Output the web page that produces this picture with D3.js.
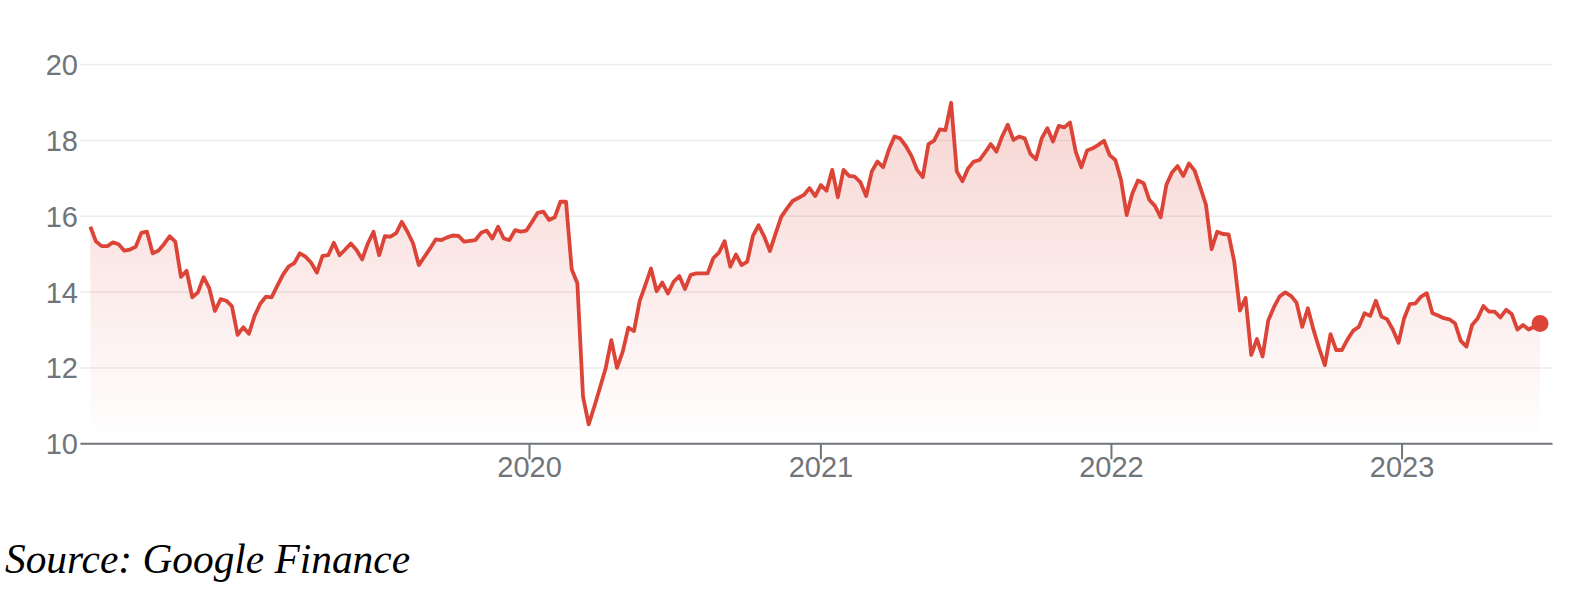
<!DOCTYPE html>
<html>
<head>
<meta charset="utf-8">
<script src="https://cdn.jsdelivr.net/npm/d3@7"></script>
<style>
  html, body { margin: 0; padding: 0; background: #fff; }
  svg { display: block; }
  .axis text { font-family: "Liberation Sans", Arial, sans-serif; font-size: 29px; fill: #70757a; }
  .source { font-family: "Liberation Serif", serif; font-style: italic; font-size: 43px; fill: #000; }
</style>
</head>
<body>
<svg id="chart" width="1580" height="594"></svg>
<script>
// weekly closing prices (first point end of June 2018, last late June 2023)
const startDate = new Date(2018, 5, 29);
const endDate = new Date(2023, 5, 24);

const prices = [
  15.71, 15.32, 15.20, 15.20, 15.30, 15.25, 15.08, 15.11, 15.18, 15.55,
  15.58, 15.01, 15.08, 15.25, 15.46, 15.32, 14.39, 14.55, 13.85, 13.98,
  14.38, 14.09, 13.49, 13.80, 13.76, 13.62, 12.86, 13.06, 12.89, 13.36,
  13.68, 13.87, 13.85, 14.15, 14.44, 14.66, 14.75, 15.01, 14.92, 14.76,
  14.50, 14.94, 14.96, 15.29, 14.96, 15.11, 15.27, 15.10, 14.85, 15.27,
  15.58, 14.96, 15.46, 15.45, 15.54, 15.84, 15.58, 15.27, 14.70, 14.92,
  15.14, 15.38, 15.36, 15.43, 15.48, 15.47, 15.32, 15.34, 15.36, 15.55,
  15.61, 15.40, 15.71, 15.40, 15.36, 15.62, 15.58, 15.61, 15.84, 16.08,
  16.11, 15.89, 15.96, 16.37, 16.37, 14.59, 14.22, 11.23, 10.50, 10.97,
  11.47, 11.98, 12.72, 11.99, 12.41, 13.05, 12.96, 13.75, 14.17, 14.61,
  14.01, 14.24, 13.95, 14.26, 14.41, 14.07, 14.44, 14.48, 14.48, 14.48,
  14.88, 15.03, 15.33, 14.66, 14.98, 14.70, 14.79, 15.47, 15.75, 15.45,
  15.07, 15.53, 15.97, 16.19, 16.39, 16.47, 16.55, 16.73, 16.52, 16.81,
  16.66, 17.21, 16.49, 17.21, 17.05, 17.03, 16.88, 16.52, 17.17, 17.43,
  17.28, 17.74, 18.09, 18.04, 17.84, 17.58, 17.21, 17.02, 17.89, 17.98,
  18.28, 18.26, 18.98, 17.17, 16.91, 17.25, 17.43, 17.47, 17.67, 17.89,
  17.69, 18.09, 18.40, 18.00, 18.09, 18.04, 17.63, 17.49, 18.04, 18.31,
  17.96, 18.37, 18.33, 18.46, 17.69, 17.28, 17.72, 17.78, 17.87, 17.98,
  17.60, 17.47, 16.95, 16.02, 16.59, 16.93, 16.86, 16.42, 16.26, 15.96,
  16.81, 17.14, 17.31, 17.05, 17.38, 17.19, 16.75, 16.29, 15.12, 15.58,
  15.52, 15.51, 14.79, 13.50, 13.83, 12.33, 12.75, 12.29, 13.24, 13.59,
  13.87, 13.98, 13.89, 13.71, 13.07, 13.56, 12.99, 12.50, 12.06, 12.88,
  12.46, 12.46, 12.74, 12.97, 13.07, 13.43, 13.36, 13.76, 13.34, 13.27,
  13.00, 12.65, 13.30, 13.67, 13.69, 13.87, 13.96, 13.43, 13.37, 13.30,
  13.27, 13.16, 12.70, 12.55, 13.12, 13.30, 13.62, 13.47, 13.47, 13.32,
  13.52, 13.41, 13.00, 13.12, 13.00, 13.08, 13.16
];

const yTicks = [10, 12, 14, 16, 18, 20];
const yearTicks = [2020, 2021, 2022, 2023];
const sourceText = "Source: Google Finance";

// spread the points evenly between first and last date
const step = (endDate - startDate) / (prices.length - 1);
const data = prices.map(function (p, i) {
  return { date: new Date(+startDate + i * step), price: p };
});

const svg = d3.select("#chart");

var plotLeft = 80,
  plotRight = 1552,
  plotTop = 64.1,
  plotBottom = 443.3;

var x = d3
  .scaleTime()
  .domain([new Date(2018, 5, 16), new Date(2023, 6, 9)])
  .range([plotLeft, plotRight]);

var y = d3.scaleLinear().domain([10, 20]).range([plotBottom, plotTop]);

//------- GRADIENT -------
var grad = svg
  .append("defs")
  .append("linearGradient")
  .attr("id", "fillGrad")
  .attr("gradientUnits", "userSpaceOnUse")
  .attr("x1", 0)
  .attr("x2", 0)
  .attr("y1", y(20))
  .attr("y2", y(10));
grad.append("stop").attr("offset", "0%").attr("stop-color", "#db4437").attr("stop-opacity", 0.25);
grad.append("stop").attr("offset", "100%").attr("stop-color", "#db4437").attr("stop-opacity", 0);

//------- Y AXIS + GRIDLINES -------
var yAxis = svg
  .append("g")
  .attr("class", "axis")
  .attr("transform", "translate(" + plotLeft + ",0)")
  .call(
    d3.axisLeft(y)
      .tickValues(yTicks)
      .tickSize(-(plotRight - plotLeft))
      .tickPadding(2)
  );
yAxis.select(".domain").remove();
yAxis.selectAll("line").attr("stroke", "#ededed").attr("stroke-width", 1.5);
yAxis.selectAll("text").attr("dy", "0.36em");

//------- AREA + LINE -------
var area = d3
  .area()
  .x(function (d) { return x(d.date); })
  .y0(y(10))
  .y1(function (d) { return y(d.price); });

var line = d3
  .line()
  .x(function (d) { return x(d.date); })
  .y(function (d) { return y(d.price); });

svg.append("path").datum(data).attr("d", area).attr("fill", "url(#fillGrad)");

//------- X AXIS -------
var xAxis = svg
  .append("g")
  .attr("class", "axis")
  .attr("transform", "translate(0," + plotBottom + ")")
  .call(
    d3.axisBottom(x)
      .tickValues(yearTicks.map(function (yr) { return new Date(yr, 0, 1); }))
      .tickFormat(d3.timeFormat("%Y"))
      .tickSize(16)
      .tickSizeOuter(0)
      .tickPadding(-3)
  );
xAxis.select(".domain").attr("stroke", "#70757a").attr("stroke-width", 2);
xAxis.selectAll("line").attr("stroke", "#70757a").attr("stroke-width", 2);

svg
  .append("path")
  .datum(data)
  .attr("d", line)
  .attr("fill", "none")
  .attr("stroke", "#db4437")
  .attr("stroke-width", 3.8)
  .attr("stroke-linejoin", "round");

var last = data[data.length - 1];
svg
  .append("circle")
  .attr("cx", x(last.date))
  .attr("cy", y(last.price))
  .attr("r", 8.5)
  .attr("fill", "#db4437");

//------- SOURCE -------
svg
  .append("text")
  .attr("class", "source")
  .attr("x", 5)
  .attr("y", 573)
  .attr("textLength", 405)
  .attr("lengthAdjust", "spacingAndGlyphs")
  .text(sourceText);
</script>
</body>
</html>
